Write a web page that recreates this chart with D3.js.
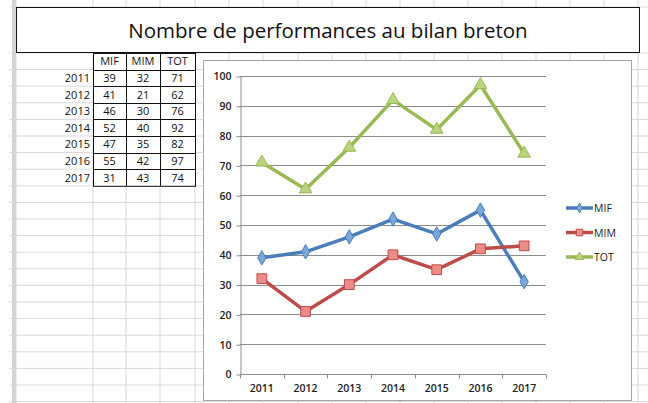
<!DOCTYPE html>
<meta charset="utf-8">
<title>Nombre de performances au bilan breton</title>
<style>
  body { margin: 0; background-color: #fff; }
  svg { display: block; font-family: "Open Sans", sans-serif; }
</style>
<body>
  <script src="https://d3js.org/d3.v7.min.js"></script>
  <script>

const years = [2011, 2012, 2013, 2014, 2015, 2016, 2017];
const mif = [39, 41, 46, 52, 47, 55, 31];
const mim = [32, 21, 30, 40, 35, 42, 43];
const tot = [71, 62, 76, 92, 82, 97, 74];
const seriesNames = ["MIF", "MIM", "TOT"];
const yTicks = [0, 10, 20, 30, 40, 50, 60, 70, 80, 90, 100];
const titleText = "Nombre de performances au bilan breton";

const width = 648;
const height = 403;

const svg = d3.select("body").append("svg")
    .attr("width", width)
    .attr("height", height);

// spreadsheet background: grid of cells
const colEdges = [16, 93, 126, 160, 195, 229, 263, 298, 332, 366, 400, 434, 468, 502, 536, 570, 604, 638];
const rowH = 16.6;
const rowEdges = [7].concat(d3.range(0, 22).map(i => 53 + i * rowH));

svg.append("g").selectAll("line")
    .data(colEdges)
  .enter().append("line")
    .attr("x1", d => d).attr("x2", d => d)
    .attr("y1", 0).attr("y2", height)
    .style("stroke", "#d9d9d9");

svg.append("g").selectAll("line")
    .data(rowEdges)
  .enter().append("line")
    .attr("x1", 9).attr("x2", width)
    .attr("y1", d => d).attr("y2", d => d)
    .style("stroke", "#d9d9d9");

svg.append("rect")
    .attr("x", 12).attr("y", 0)
    .attr("width", 4).attr("height", height)
    .style("fill", "#d4d4d4");

// title box (merged cells)
svg.append("rect")
    .attr("x", 16.5).attr("y", 7.5)
    .attr("width", 623).attr("height", 45)
    .style("fill", "#fff")
    .style("stroke", "#111");

svg.append("text")
    .attr("x", 328).attr("y", 38)
    .attr("text-anchor", "middle")
    .style("font-size", "20.5px")
    .style("fill", "#111")
    .text(titleText);

// data table
const table = svg.append("g").style("font-size", "11px").style("fill", "#111");
const tableCols = [colEdges[1], colEdges[2], colEdges[3], colEdges[4]];
const tableTop = rowEdges[1];
const tableRows = years.length + 1;

table.append("rect")
    .attr("x", tableCols[0] + 0.5).attr("y", tableTop + 0.5)
    .attr("width", tableCols[3] - tableCols[0]).attr("height", tableRows * rowH)
    .style("fill", "#fff").style("stroke", "#111");

tableCols.slice(1, 3).forEach(x => {
  table.append("line")
      .attr("x1", x + 0.5).attr("x2", x + 0.5)
      .attr("y1", tableTop).attr("y2", tableTop + tableRows * rowH)
      .style("stroke", "#111");
});
d3.range(1, tableRows).forEach(i => {
  table.append("line")
      .attr("x1", tableCols[0]).attr("x2", tableCols[3])
      .attr("y1", Math.round(tableTop + i * rowH) + 0.5).attr("y2", Math.round(tableTop + i * rowH) + 0.5)
      .style("stroke", "#111");
});

seriesNames.forEach((name, j) => {
  table.append("text")
      .attr("x", (tableCols[j] + tableCols[j + 1]) / 2)
      .attr("y", tableTop + rowH / 2 + 4)
      .attr("text-anchor", "middle")
      .text(name);
});

const tableValues = [mif, mim, tot];
years.forEach((yr, i) => {
  const cy = tableTop + (i + 1) * rowH + rowH / 2 + 4;
  table.append("text")
      .attr("x", tableCols[0] - 3).attr("y", cy)
      .attr("text-anchor", "end")
      .text(yr);
  tableValues.forEach((vals, j) => {
    table.append("text")
        .attr("x", (tableCols[j] + tableCols[j + 1]) / 2)
        .attr("y", cy)
        .attr("text-anchor", "middle")
        .text(vals[i]);
  });
});

// chart box
svg.append("rect")
    .attr("x", 203.5).attr("y", 60.5)
    .attr("width", 428).attr("height", 340)
    .style("fill", "#fff")
    .style("stroke", "#a6a6a6");

const x = d3.scaleBand().domain(years).range([240, 546]);
const y = d3.scaleLinear().domain([0, 100]).range([374, 76]);

const plot = svg.append("g");

// horizontal gridlines
plot.append("g").selectAll("line")
    .data(yTicks.filter(t => t > 0))
  .enter().append("line")
    .attr("x1", x.range()[0]).attr("x2", x.range()[1])
    .attr("y1", d => Math.round(y(d)) + 0.5).attr("y2", d => Math.round(y(d)) + 0.5)
    .style("stroke", "#8c8c8c");

// y axis
const yAxis = plot.append("g")
    .attr("transform", `translate(${x.range()[0] + 0.5},0.5)`)
    .call(d3.axisLeft(y).tickValues(yTicks).tickSize(4).tickPadding(5).tickSizeOuter(0));
yAxis.select(".domain").style("stroke", "#8c8c8c");
yAxis.selectAll(".tick line").style("stroke", "#8c8c8c");
yAxis.selectAll("text")
    .style("font-family", "'Open Sans', sans-serif")
    .style("font-size", "10.5px")
    .style("font-weight", "600")
    .style("fill", "#222");

// x axis, ticks between categories
const xAxisG = plot.append("g")
    .attr("transform", `translate(0,${Math.round(y(0)) + 0.5})`);
xAxisG.append("line")
    .attr("x1", x.range()[0]).attr("x2", x.range()[1])
    .style("stroke", "#8c8c8c");
xAxisG.selectAll(".cat-tick")
    .data(years.map(d => x(d)).concat([x.range()[1]]))
  .enter().append("line")
    .attr("class", "cat-tick")
    .attr("x1", d => Math.round(d) + 0.5).attr("x2", d => Math.round(d) + 0.5)
    .attr("y1", 0).attr("y2", 4)
    .style("stroke", "#8c8c8c");
xAxisG.selectAll("text")
    .data(years)
  .enter().append("text")
    .attr("x", d => x(d) + x.bandwidth() / 2)
    .attr("y", 17.5)
    .attr("text-anchor", "middle")
    .style("font-size", "10.5px")
    .style("font-weight", "600")
    .style("fill", "#222")
    .text(d => d);

// series
const series = [
  { name: "MIF", values: mif, color: "#4a7ebb", fill: "#7aa6d8", symbol: d3.symbolDiamond, size: 60 },
  { name: "MIM", values: mim, color: "#be4b48", fill: "#ec8c88", symbol: d3.symbolSquare, size: 95 },
  { name: "TOT", values: tot, color: "#98b954", fill: "#b9d47e", symbol: d3.symbolTriangle, size: 70 },
];

const line = d3.line()
    .x((d, i) => x(years[i]) + x.bandwidth() / 2)
    .y(d => y(d));

series.forEach(s => {
  const g = plot.append("g");
  g.append("path")
      .attr("d", line(s.values))
      .style("fill", "none")
      .style("stroke", s.color)
      .style("stroke-width", 3.5)
      .style("stroke-linejoin", "round");
  g.selectAll("path.marker")
      .data(s.values)
    .enter().append("path")
      .attr("class", "marker")
      .attr("transform", (d, i) => `translate(${x(years[i]) + x.bandwidth() / 2},${y(d)})`)
      .attr("d", d3.symbol().type(s.symbol).size(s.size))
      .style("fill", s.fill)
      .style("stroke", s.color)
      .style("stroke-width", 1);
});

// legend
const legend = svg.append("g");
series.forEach((s, i) => {
  const ly = 208 + i * 24.5;
  legend.append("line")
      .attr("x1", 566).attr("x2", 593)
      .attr("y1", ly).attr("y2", ly)
      .style("stroke", s.color)
      .style("stroke-width", 3.5);
  legend.append("path")
      .attr("transform", `translate(579.5,${ly})`)
      .attr("d", d3.symbol().type(s.symbol).size(s.size * 0.45))
      .style("fill", s.fill)
      .style("stroke", s.color);
  legend.append("text")
      .attr("x", 594).attr("y", ly + 4)
      .style("font-size", "10.5px")
      .style("fill", "#222")
      .text(s.name);
});

  </script>
</body>
